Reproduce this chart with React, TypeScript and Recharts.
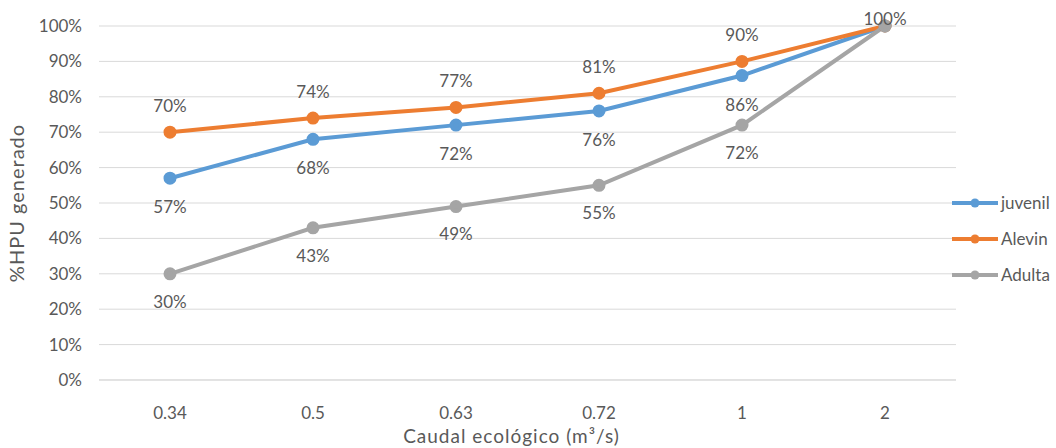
import React from "react";
import { LineChart, Line, XAxis, YAxis, CartesianGrid, LabelList } from "recharts";

const caudales = ["0.34", "0.5", "0.63", "0.72", "1", "2"];
const juvenil = [57, 68, 72, 76, 86, 100];
const alevin = [70, 74, 77, 81, 90, 100];
const adulta = [30, 43, 49, 55, 72, 100];
const yTicks = [0, 10, 20, 30, 40, 50, 60, 70, 80, 90, 100];

const series = [
  { key: "juvenil", color: "#5B9BD5" },
  { key: "Alevin", color: "#ED7D31" },
  { key: "Adulta", color: "#A5A5A5" },
];

const data = caudales.map((c, i) => ({
  caudal: c,
  juvenil: juvenil[i],
  Alevin: alevin[i],
  Adulta: adulta[i],
}));

const FONT = "Lato, 'Open Sans', sans-serif";
const TEXT = "#595959";

// label drawn at a vertical offset from the point; Excel hides some, clamps the top one
function makeLabel(dy: number, skipLast: boolean) {
  return (props: any) => {
    const { x, y, value, index } = props;
    if (skipLast && index === caudales.length - 1) return null;
    const cy = Math.max(y + dy, 19);
    return (
      <text x={x} y={cy} dy="0.35em" textAnchor="middle" fill={TEXT} fontSize={17} fontFamily={FONT}>
        {value}%
      </text>
    );
  };
}

function LegendBox() {
  return (
    <svg width={106} height={100} style={{ position: "absolute", left: 950, top: 193 }}>
      {series.map((s, i) => (
        <g key={s.key}>
          <line x1={2} x2={48} y1={10 + i * 36} y2={10 + i * 36} stroke={s.color} strokeWidth={4} />
          <circle cx={25} cy={10 + i * 36} r={4.5} fill={s.color} />
          <text x={51} y={10 + i * 36} dy="0.35em" fill={TEXT} fontSize={17} fontFamily={FONT}>
            {s.key}
          </text>
        </g>
      ))}
    </svg>
  );
}

export default function App() {
  return (
    <div style={{ position: "absolute", left: 0, top: 0, width: 1056, height: 448, background: "#fff" }}>
      <LineChart width={1056} height={448} data={data} margin={{ top: 26, right: 100, bottom: 0, left: 0 }}>
        <CartesianGrid stroke="#D9D9D9" vertical={false} />
        <XAxis
          dataKey="caudal"
          height={68}
          padding={{ left: 71, right: 71 }}
          axisLine={{ stroke: "#D9D9D9" }}
          tickLine={false}
          tick={{ fill: TEXT, fontSize: 17, fontFamily: FONT }}
          tickMargin={21}
          label={{ value: "Caudal ecológico (m³/s)", position: "insideBottom", offset: 5, dx: -16, fill: TEXT, fontSize: 19, fontFamily: FONT, style: { letterSpacing: 1 } }}
        />
        <YAxis
          width={99}
          domain={[0, 100]}
          ticks={yTicks}
          interval={0}
          axisLine={false}
          tickLine={false}
          tick={{ fill: TEXT, fontSize: 17, fontFamily: FONT }}
          tickMargin={11}
          tickFormatter={(v) => `${v}%`}
          label={{ value: "%HPU generado", angle: -90, position: "insideLeft", offset: 17, fill: TEXT, fontSize: 20, fontFamily: FONT, style: { textAnchor: "middle", letterSpacing: 1 } }}
        />
        <Line dataKey="juvenil" stroke="#5B9BD5" strokeWidth={4} dot={{ r: 4.5, fill: "#5B9BD5", stroke: "#5B9BD5" }} isAnimationActive={false}>
          <LabelList dataKey="juvenil" content={makeLabel(29, true)} />
        </Line>
        <Line dataKey="Alevin" stroke="#ED7D31" strokeWidth={4} dot={{ r: 4.5, fill: "#ED7D31", stroke: "#ED7D31" }} isAnimationActive={false}>
          <LabelList dataKey="Alevin" content={makeLabel(-26, false)} />
        </Line>
        <Line dataKey="Adulta" stroke="#A5A5A5" strokeWidth={4} dot={{ r: 4.5, fill: "#A5A5A5", stroke: "#A5A5A5" }} isAnimationActive={false}>
          <LabelList dataKey="Adulta" content={makeLabel(28, true)} />
        </Line>
      </LineChart>
      <LegendBox />
    </div>
  );
}
